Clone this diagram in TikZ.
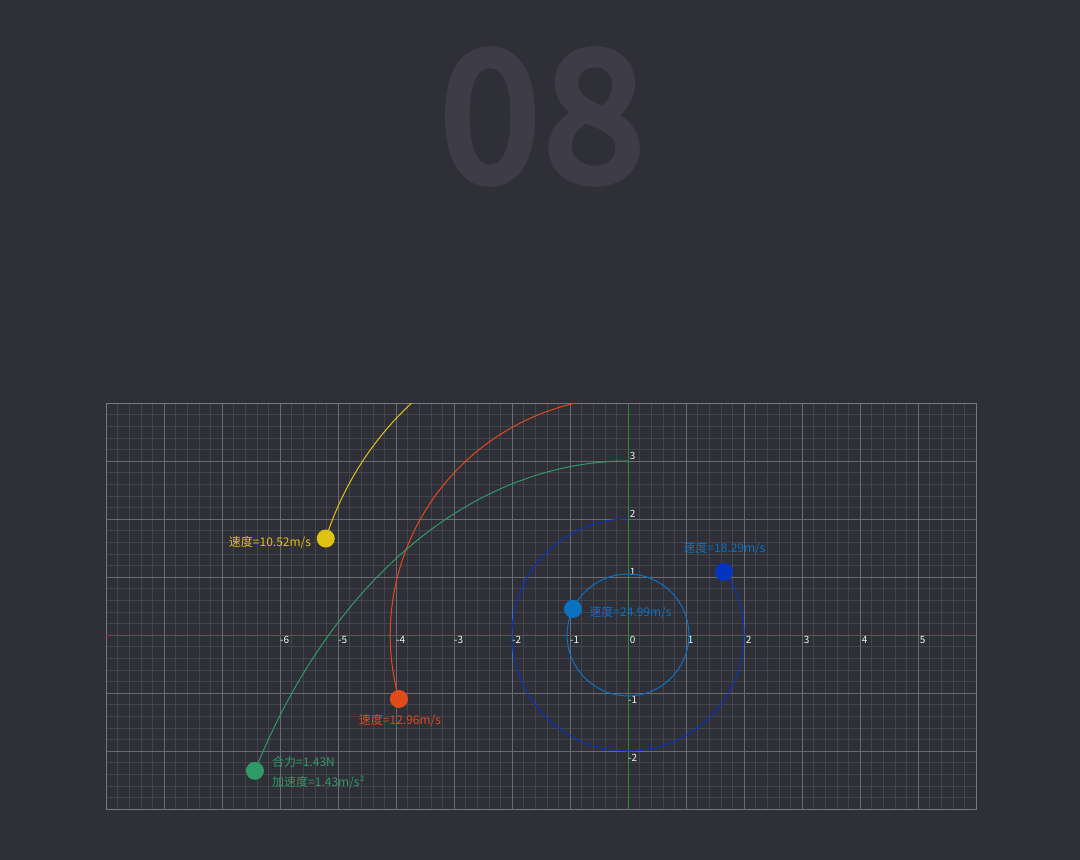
\documentclass[tikz,border=0pt]{standalone}
\usepackage{fontspec}
\setmainfont{Noto Sans CJK SC}
\newfontfamily\numfont[FakeBold=5, LetterSpace=3]{Noto Sans CJK SC}
\definecolor{bgc}{HTML}{2F2F38}
\definecolor{bignum}{HTML}{3E3D47}
\definecolor{minorc}{HTML}{44444D}
\definecolor{majorc}{HTML}{6A6A72}
\definecolor{borderc}{HTML}{77777D}
\definecolor{xaxisc}{HTML}{A8304A}
\definecolor{yaxisc}{HTML}{2A8A3A}
\definecolor{yelc}{HTML}{DFC312}
\definecolor{redc}{HTML}{E24A1B}
\definecolor{grnc}{HTML}{2F9A64}
\definecolor{dbluec}{HTML}{0535C0}
\definecolor{lbluec}{HTML}{0B72C2}
\definecolor{tickc}{HTML}{F2F2F4}
\tikzset{
  minorgrid/.style={draw=minorc, line width=0.6pt},
  majorgrid/.style={draw=majorc, line width=0.8pt},
  curve/.style={line width=1pt},
  ball/.style={circle, minimum size=18pt, inner sep=0pt},
  lbl/.style={font=\fontsize{12}{12}\selectfont, inner sep=0pt},
  tick/.style={font=\fontsize{10}{10}\selectfont, text=tickc, inner sep=0pt, anchor=base},
}
\begin{document}
\begin{tikzpicture}[x=1pt,y=-1pt]
\fill[bgc] (0,0) rectangle (1080,860);
\useasboundingbox (0,0) rectangle (1080,860);
\node[anchor=base, font=\numfont\fontsize{178}{178}\selectfont, text=bignum, inner sep=0pt] (title) at (542,180) {08};
\begin{scope}[shift={(628,635)}, x=58pt, y=58pt]
  \draw[minorgrid] (-9,-3) grid[step=0.2] (6,4);
  \draw[majorgrid] (-9,-3) grid[step=1] (6,4);
  \draw[draw=borderc, line width=0.8pt] (-9,-3) rectangle (6,4);
  \draw[xaxisc, line width=0.8pt] (-9,0) -- (6,0);
  \draw[yaxisc, line width=0.8pt] (0,-3) -- (0,4);
  \foreach \k in {-6,-5,-4,-3,-2,-1,0,1,2,3,4,5} {
    \node[tick] (xt\k) at (\k+0.08,-0.15) {\k};
  }
  \foreach \k in {1,2,3} {
    \node[tick] (yt\k) at (0.08,\k+0.03) {\k};
  }
  \foreach \k in {-1,-2} {
    \node[tick] (yt\k) at (0.08,\k-0.18) {\k};
  }
  \begin{scope}
    \clip (-9,-3) rectangle (6,4);
    \draw[curve, lbluec] (0,0) circle[radius=1.05];
    \draw[curve, dbluec] (90:2) arc[start angle=90, end angle=393.3, radius=2];
    \draw[curve, redc] (195.6:4.1) arc[start angle=195.6, end angle=95, radius=4.1];
    \draw[curve, yelc] (162.3:5.47) arc[start angle=162.3, end angle=115, radius=5.47];
    \draw[curve, grnc] plot[domain=90:200, samples=120, variable=\t, smooth]
      ({5.16/(1+0.72*sin(\t))*cos(\t)}, {5.16/(1+0.72*sin(\t))*sin(\t)});
  \end{scope}
  \node[ball, fill=lbluec] (lball) at (154.7:1.05) {};
  \node[ball, fill=dbluec] (dball) at (33.3:1.98) {};
  \node[ball, fill=redc] (rball) at (195.6:4.1) {};
  \node[ball, fill=yelc] (yball) at (162.3:5.47) {};
  \node[ball, fill=grnc] (gball) at (200:6.845) {};
\end{scope}
\node[lbl, text=yelc, anchor=base] (ylbl) at (270,546) {速度=10.52m/s};
\node[lbl, text=redc, anchor=base] (rlbl) at (400,724.5) {速度=12.96m/s};
\node[lbl, text=lbluec, anchor=base] (llbl) at (630.5,616.5) {速度=24.99m/s};
\node[lbl, text=lbluec, anchor=base] (dlbl) at (724.5,552.5) {速度=18.29m/s};
\node[lbl, text=grnc, anchor=base west] (glbl1) at (272,766.5) {合力=1.43N};
\node[lbl, text=grnc, anchor=base west] (glbl2) at (272,786.5) {加速度=1.43m/s²};
\end{tikzpicture}
\end{document}
